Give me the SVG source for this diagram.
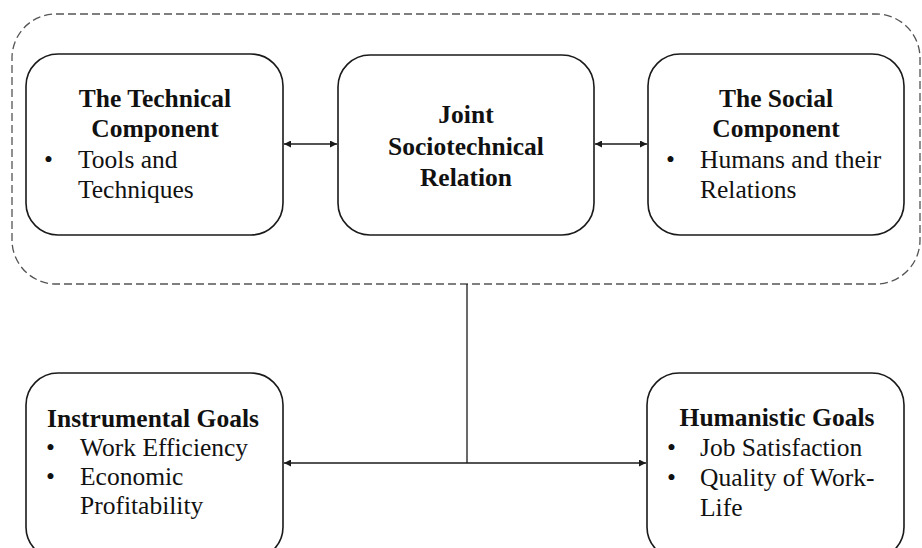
<svg xmlns="http://www.w3.org/2000/svg" width="922" height="548" viewBox="0 0 922 548">
<defs>
<marker id="ah" viewBox="0 0 10 10" refX="10" refY="5" markerWidth="9" markerHeight="7" markerUnits="userSpaceOnUse" orient="auto-start-reverse">
<path d="M0,0 L10,5 L0,10 Z" fill="#1a1a1a"/>
</marker>
</defs>
<style>
.box{fill:#fff;stroke:#1a1a1a;stroke-width:1.6}
.t{font-family:"Liberation Serif","Times New Roman",serif;font-size:25.5px;fill:#111}
.b{font-weight:bold}
.c{text-anchor:middle}
.ln{stroke:#1a1a1a;stroke-width:1.3;fill:none}
</style>
<rect x="0" y="0" width="922" height="548" fill="#fff"/>
<rect id="boundary" x="12" y="14" width="908" height="270" rx="44" ry="44" fill="none" stroke="#555" stroke-width="1.3" stroke-dasharray="8,4"/>
<g id="connectors">
<line class="ln" x1="284" y1="144" x2="337" y2="144" marker-start="url(#ah)" marker-end="url(#ah)"/>
<line class="ln" x1="595" y1="144" x2="647" y2="144" marker-start="url(#ah)" marker-end="url(#ah)"/>
<line class="ln" x1="467" y1="284" x2="467" y2="463"/>
<line class="ln" x1="284" y1="463" x2="646" y2="463" marker-start="url(#ah)" marker-end="url(#ah)"/>
</g>
<g id="technical">
<rect class="box" x="26" y="54" width="257" height="181" rx="32"/>
<text class="t b c" x="155" y="107">The Technical</text>
<text class="t b c" x="155" y="137">Component</text>
<text class="t" x="44" y="168">•</text>
<text class="t" x="78" y="168">Tools and</text>
<text class="t" x="78" y="198">Techniques</text>
</g>
<g id="joint">
<rect class="box" x="338" y="55" width="256" height="180" rx="32"/>
<text class="t b c" x="466" y="123">Joint</text>
<text class="t b c" x="466" y="155">Sociotechnical</text>
<text class="t b c" x="466" y="186">Relation</text>
</g>
<g id="social">
<rect class="box" x="648" y="54" width="256" height="181" rx="32"/>
<text class="t b c" x="776" y="107">The Social</text>
<text class="t b c" x="776" y="137">Component</text>
<text class="t" x="666" y="168">•</text>
<text class="t" x="700" y="168">Humans and their</text>
<text class="t" x="700" y="198">Relations</text>
</g>
<g id="instrumental">
<rect class="box" x="26" y="373" width="257" height="186" rx="32"/>
<text class="t b c" x="153" y="427">Instrumental Goals</text>
<text class="t" x="46" y="456">•</text>
<text class="t" x="80" y="456">Work Efficiency</text>
<text class="t" x="46" y="485">•</text>
<text class="t" x="80" y="485">Economic</text>
<text class="t" x="80" y="514">Profitability</text>
</g>
<g id="humanistic">
<rect class="box" x="647" y="373" width="257" height="186" rx="32"/>
<text class="t b c" x="777" y="426">Humanistic Goals</text>
<text class="t" x="667" y="456">•</text>
<text class="t" x="700" y="456">Job Satisfaction</text>
<text class="t" x="667" y="486">•</text>
<text class="t" x="700" y="486">Quality of Work-</text>
<text class="t" x="700" y="516">Life</text>
</g>
</svg>
